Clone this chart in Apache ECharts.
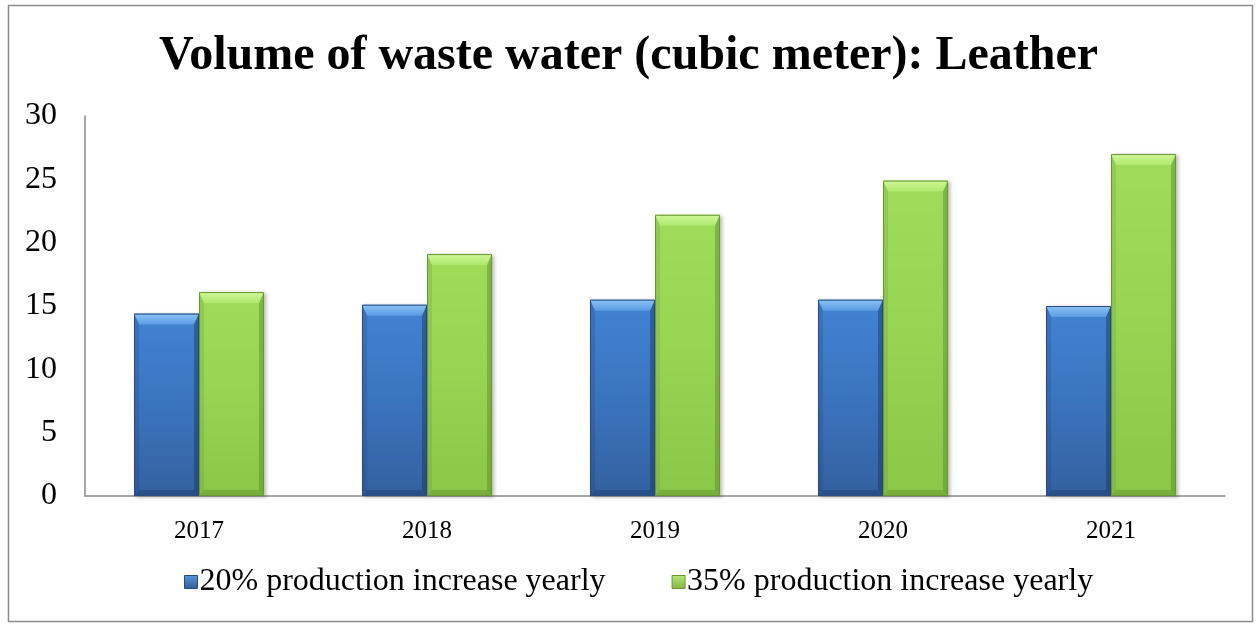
<!DOCTYPE html>
<html>
<head>
<meta charset="utf-8">
<title>Volume of waste water (cubic meter): Leather</title>
<script src="https://cdn.jsdelivr.net/npm/echarts@6/dist/echarts.min.js"></script>
<style>
  html, body { margin: 0; padding: 0; background: #ffffff; }
  #chart { width: 1257px; height: 624px; }
</style>
</head>
<body>
<div id="chart"></div>
<script>
// Years on the category axis
const years = ['2017', '2018', '2019', '2020', '2021'];

// Waste water volume (cubic meter) per scenario
const seriesNames = ['20% production increase yearly', '35% production increase yearly'];
const increase20 = [14.4, 15.1, 15.5, 15.5, 15.0];
const increase35 = [16.1, 19.1, 22.2, 24.9, 27.0];

// Value axis ticks
const yMin = 0;
const yMax = 30;
const yStep = 5;

const serif = '"Liberation Serif", "Times New Roman", serif';
const LG = echarts.graphic.LinearGradient;

// Bevelled bar palette: face gradient, light top edge, darker sides/bottom, outline
const palettes = [
  {
    face: ['#4283d3', '#3b74be', '#33619f'],
    top: ['#8cc3f5', '#5a9be4'],
    left: 'rgba(30,60,110,0.22)',
    right: 'rgba(20,45,90,0.4)',
    bottom: 'rgba(20,45,90,0.32)',
    stroke: '#294d7f',
    legend: ['#5b98e0', '#2f5b96']
  },
  {
    face: ['#9edc5a', '#97d452', '#8bc748'],
    top: ['#d0f79a', '#aee96b'],
    left: 'rgba(80,120,30,0.16)',
    right: 'rgba(70,110,25,0.34)',
    bottom: 'rgba(70,110,25,0.28)',
    stroke: '#6a9733',
    legend: ['#b6ea7a', '#7fb53f']
  }
];

// Share of the category band taken by one bar; the two bars sit side by side
const barShare = 0.285;

function bevelBar(seriesIndex) {
  const p = palettes[seriesIndex];
  return function (params, api) {
    const cat = api.value(0);
    const val = api.value(1);
    const base = api.coord([cat, 0]);
    const tip = api.coord([cat, val]);
    const band = api.size([1, 0])[0];
    const w = band * barShare;
    const x = seriesIndex === 0 ? base[0] - w : base[0];
    const y = tip[1];
    const h = base[1] - tip[1];
    const bt = Math.min(11, h / 2);
    const bs = 5;
    const bb = 6;
    return {
      type: 'group',
      children: [
        {
          type: 'rect',
          shape: { x: x, y: y, width: w, height: h },
          style: {
            fill: new LG(0, 0, 0, 1, [
              { offset: 0, color: p.face[0] },
              { offset: 0.5, color: p.face[1] },
              { offset: 1, color: p.face[2] }
            ]),
            shadowBlur: 4,
            shadowOffsetX: 2,
            shadowOffsetY: 1,
            shadowColor: 'rgba(0,0,0,0.3)'
          }
        },
        {
          type: 'polygon',
          shape: { points: [[x, y], [x + w, y], [x + w - bs, y + bt], [x + bs, y + bt]] },
          style: {
            fill: new LG(0, 0, 0, 1, [
              { offset: 0, color: p.top[0] },
              { offset: 1, color: p.top[1] }
            ])
          }
        },
        {
          type: 'polygon',
          shape: { points: [[x, y], [x + bs, y + bt], [x + bs, y + h - bb], [x, y + h]] },
          style: { fill: p.left }
        },
        {
          type: 'polygon',
          shape: { points: [[x + w, y], [x + w, y + h], [x + w - bs, y + h - bb], [x + w - bs, y + bt]] },
          style: { fill: p.right }
        },
        {
          type: 'polygon',
          shape: { points: [[x, y + h], [x + bs, y + h - bb], [x + w - bs, y + h - bb], [x + w, y + h]] },
          style: { fill: p.bottom }
        },
        {
          type: 'rect',
          shape: { x: x + 0.5, y: y + 0.5, width: w - 1, height: h - 1 },
          style: { fill: 'none', stroke: p.stroke, lineWidth: 1 }
        }
      ]
    };
  };
}

function legendIcon(i) {
  return {
    name: seriesNames[i],
    itemStyle: {
      color: new LG(0, 0, 0, 1, [
        { offset: 0, color: palettes[i].legend[0] },
        { offset: 1, color: palettes[i].legend[1] }
      ]),
      borderColor: palettes[i].stroke,
      borderWidth: 1
    }
  };
}

const chart = echarts.init(document.getElementById('chart'), null, { renderer: 'canvas' });

chart.setOption({
  backgroundColor: '#ffffff',
  animation: false,
  title: {
    text: 'Volume of waste water (cubic meter): Leather',
    left: 'center',
    top: 28,
    textStyle: { fontFamily: serif, fontWeight: 'bold', fontSize: 48, color: '#000000' }
  },
  graphic: [{
    type: 'rect',
    shape: { x: 8.5, y: 5.5, width: 1244, height: 616 },
    style: { fill: 'none', stroke: '#8c8c8c', lineWidth: 1.5 },
    silent: true,
    z: -1
  }],
  legend: {
    data: [legendIcon(0), legendIcon(1)],
    top: 566,
    left: 184,
    padding: 0,
    icon: 'rect',
    itemWidth: 13,
    itemHeight: 13,
    itemGap: 66,
    textStyle: { fontFamily: serif, fontSize: 32, color: '#000000', padding: [0, 0, 0, -3] }
  },
  grid: { left: 85, right: 32, top: 116, bottom: 128 },
  xAxis: {
    type: 'category',
    data: years,
    axisLine: { lineStyle: { color: '#8a8a8a', width: 1.5 } },
    axisTick: { show: false },
    axisLabel: { fontFamily: serif, fontSize: 25, color: '#000000', margin: 23 }
  },
  yAxis: {
    type: 'value',
    min: yMin,
    max: yMax,
    interval: yStep,
    axisLine: { show: true, lineStyle: { color: '#8a8a8a', width: 1.5 } },
    axisTick: { show: false },
    splitLine: { show: false },
    axisLabel: { fontFamily: serif, fontSize: 32, color: '#000000', margin: 28 }
  },
  series: [increase20, increase35].map(function (values, i) {
    return {
      name: seriesNames[i],
      type: 'custom',
      renderItem: bevelBar(i),
      encode: { x: 0, y: 1 },
      itemStyle: { color: palettes[i].face[1] },
      data: values.map(function (v, k) { return [k, v]; })
    };
  })
});
</script>
</body>
</html>
